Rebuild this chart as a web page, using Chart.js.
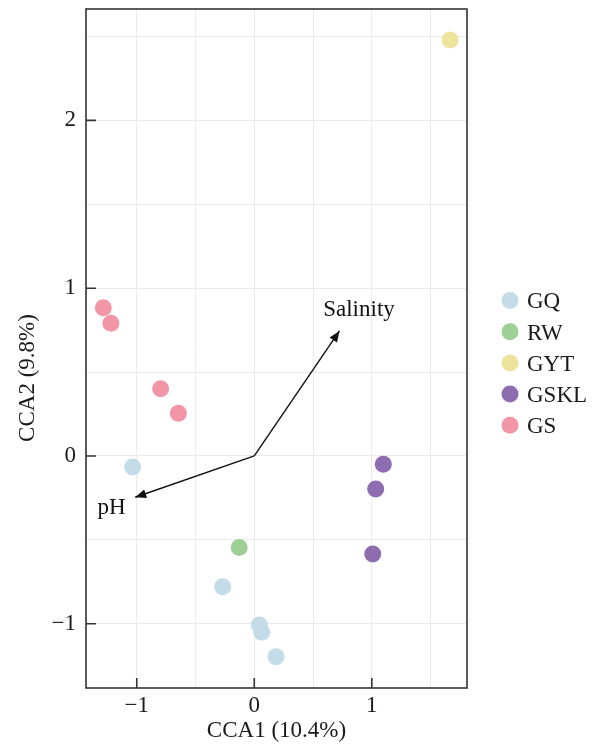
<!DOCTYPE html>
<html>
<head>
<meta charset="utf-8">
<script src="https://cdn.jsdelivr.net/npm/chart.js@4.4.0/dist/chart.umd.min.js"></script>
<style>
  html, body { margin: 0; padding: 0; background: #fff; }
</style>
</head>
<body>
<canvas id="ccaChart" width="598" height="748"></canvas>
<script>
// sample groups and their colours
const groups = ['GQ', 'RW', 'GYT', 'GSKL', 'GS'];
const groupColors = ['#c3dce8', '#9ecf95', '#eee39c', '#8e6cb0', '#f296a6'];

// site scores (CCA1, CCA2)
const gqX = [-1.035, -0.269, 0.043, 0.063, 0.185];
const gqY = [-0.066, -0.779, -1.007, -1.051, -1.196];
const rwX = [-0.128];
const rwY = [-0.546];
const gytX = [1.666];
const gytY = [2.479];
const gsklX = [1.098, 1.033, 1.008];
const gsklY = [-0.05, -0.197, -0.584];
const gsX = [-1.285, -1.22, -0.797, -0.646];
const gsY = [0.884, 0.791, 0.401, 0.254];

// environmental vectors
const envNames = ['Salinity', 'pH'];
const envX = [0.725, -1.013];
const envY = [0.745, -0.246];
const envLabelX = [0.891, -1.215];
const envLabelY = [0.834, -0.346];

const xTitle = 'CCA1 (10.4%)';
const yTitle = 'CCA2 (9.8%)';
const majorTicks = [-1, 0, 1, 2];

const serif = "'Liberation Serif', 'Times New Roman', serif";

function toPoints(xs, ys) {
    return xs.map((x, i) => ({ x: x, y: ys[i] }));
}

const groupXs = [gqX, rwX, gytX, gsklX, gsX];
const groupYs = [gqY, rwY, gytY, gsklY, gsY];

const pointSets = groups.map((g, i) => ({
    label: g,
    data: toPoints(groupXs[i], groupYs[i]),
    backgroundColor: groupColors[i],
    borderWidth: 0,
    pointRadius: 8.5,
    pointHoverRadius: 8.5,
    order: 1
}));

const arrowSets = envNames.map((name, i) => ({
    label: name,
    type: 'line',
    isArrow: true,
    data: [{ x: 0, y: 0 }, { x: envX[i], y: envY[i] }],
    borderColor: '#111',
    borderWidth: 1.4,
    pointRadius: 0,
    showLine: true,
    fill: false,
    order: 2
}));

const intLabel = (v) => Number.isInteger(v) ? (v < 0 ? '\u2212' + Math.abs(v) : String(v)) : '';

const ccaPlugin = {
    id: 'ccaExtras',
    afterDatasetsDraw(chart) {
        const ctx = chart.ctx;
        const xs = chart.scales.x, ys = chart.scales.y;
        const ox = xs.getPixelForValue(0), oy = ys.getPixelForValue(0);
        ctx.save();
        // arrow heads
        envNames.forEach((name, i) => {
            const tx = xs.getPixelForValue(envX[i]);
            const ty = ys.getPixelForValue(envY[i]);
            const a = Math.atan2(ty - oy, tx - ox);
            const len = 11, hw = 4.5;
            ctx.beginPath();
            ctx.moveTo(tx, ty);
            ctx.lineTo(tx - len * Math.cos(a) + hw * Math.sin(a), ty - len * Math.sin(a) - hw * Math.cos(a));
            ctx.lineTo(tx - len * Math.cos(a) - hw * Math.sin(a), ty - len * Math.sin(a) + hw * Math.cos(a));
            ctx.closePath();
            ctx.fillStyle = '#111';
            ctx.fill();
            // vector labels
            ctx.font = '23px ' + serif;
            ctx.textAlign = 'center';
            ctx.textBaseline = 'alphabetic';
            ctx.fillText(name, xs.getPixelForValue(envLabelX[i]), ys.getPixelForValue(envLabelY[i]));
        });
        ctx.restore();
    },
    afterDraw(chart) {
        const ctx = chart.ctx;
        const a = chart.chartArea;
        const xs = chart.scales.x, ys = chart.scales.y;
        ctx.save();
        // panel frame
        ctx.strokeStyle = '#333';
        ctx.lineWidth = 1.6;
        ctx.strokeRect(a.left, a.top, a.right - a.left, a.bottom - a.top);

        // inward tick marks at the labelled values
        ctx.beginPath();
        majorTicks.forEach(v => {
            const px = xs.getPixelForValue(v);
            if (px > a.left && px < a.right) {
                ctx.moveTo(px, a.bottom);
                ctx.lineTo(px, a.bottom - 10);
            }
            const py = ys.getPixelForValue(v);
            if (py > a.top && py < a.bottom) {
                ctx.moveTo(a.left, py);
                ctx.lineTo(a.left + 10, py);
            }
        });
        ctx.stroke();

        // y axis title
        ctx.fillStyle = '#1a1a1a';
        ctx.font = '23px ' + serif;
        ctx.translate(28, 378);
        ctx.rotate(-Math.PI / 2);
        ctx.textAlign = 'center';
        ctx.textBaseline = 'middle';
        ctx.fillText(yTitle, 0, 0);
        ctx.setTransform(1, 0, 0, 1, 0, 0);

        // legend
        const sets = chart.data.datasets.filter(d => !d.isArrow);
        ctx.font = '23px ' + serif;
        ctx.textAlign = 'left';
        ctx.textBaseline = 'alphabetic';
        sets.forEach((d, i) => {
            const cy = 300.5 + i * 31.2;
            ctx.beginPath();
            ctx.arc(510, cy, 8.5, 0, Math.PI * 2);
            ctx.fillStyle = d.backgroundColor;
            ctx.fill();
            ctx.fillStyle = '#1a1a1a';
            ctx.fillText(d.label, 527, cy + 7.8);
        });
        ctx.restore();
    }
};

new Chart(document.getElementById('ccaChart'), {
    type: 'scatter',
    data: { datasets: arrowSets.concat(pointSets) },
    options: {
        responsive: false,
        animation: false,
        layout: { padding: { top: 9, right: 131, left: 0, bottom: 0 } },
        plugins: {
            legend: { display: false },
            tooltip: { enabled: false }
        },
        scales: {
            x: {
                type: 'linear',
                min: -1.432,
                max: 1.81,
                border: { display: false },
                grid: { color: '#ebebeb', lineWidth: 1, drawTicks: false },
                ticks: {
                    stepSize: 0.5,
                    includeBounds: false,
                    padding: 4,
                    color: '#1a1a1a',
                    font: { family: serif, size: 23 },
                    callback: intLabel
                },
                title: {
                    display: true,
                    text: xTitle,
                    color: '#1a1a1a',
                    font: { family: serif, size: 23 },
                    padding: { top: 0, bottom: 3 }
                },
                afterFit: (s) => {
                    s.height = 60;
                    s.paddingLeft = 0;
                    s.paddingRight = 0;
                }
            },
            y: {
                type: 'linear',
                min: -1.383,
                max: 2.664,
                border: { display: false },
                grid: { color: '#ebebeb', lineWidth: 1, drawTicks: false },
                ticks: {
                    stepSize: 0.5,
                    includeBounds: false,
                    padding: 10,
                    color: '#1a1a1a',
                    font: { family: serif, size: 23 },
                    callback: intLabel
                },
                title: { display: false },
                afterFit: (s) => {
                    s.width = 86;
                    s.paddingTop = 0;
                    s.paddingBottom = 0;
                }
            }
        }
    },
    plugins: [ccaPlugin]
});
</script>
</body>
</html>
